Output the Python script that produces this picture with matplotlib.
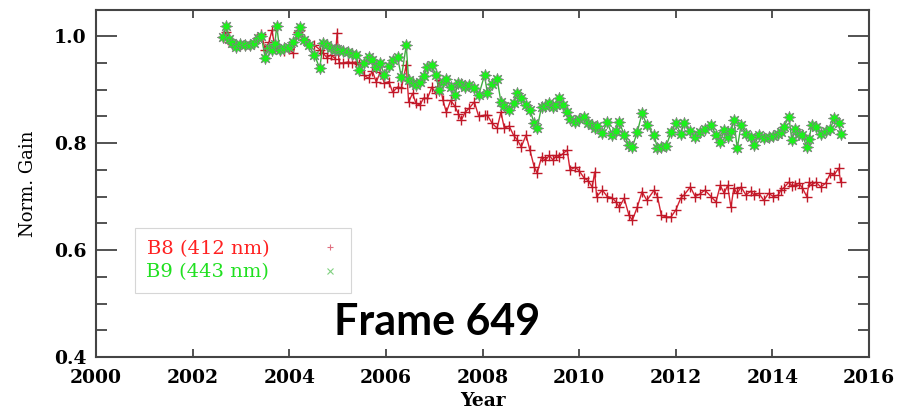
import numpy as np
import matplotlib
matplotlib.use("Agg")
import matplotlib.pyplot as plt
from matplotlib.lines import Line2D
from matplotlib.ticker import MultipleLocator

# decimal year of each frame and normalised gain for the two bands
years = [
    2002.62, 2002.70, 2002.76, 2002.82, 2002.90, 2002.98, 2003.08, 2003.18, 2003.26, 2003.36,
    2003.42, 2003.50, 2003.58, 2003.64, 2003.70, 2003.74, 2003.80, 2003.90, 2004.00, 2004.08,
    2004.17, 2004.22, 2004.30, 2004.40, 2004.52, 2004.63, 2004.70, 2004.78, 2004.86, 2004.95,
    2004.99, 2005.03, 2005.12, 2005.22, 2005.30, 2005.38, 2005.45, 2005.55, 2005.64, 2005.72,
    2005.80, 2005.88, 2005.97, 2006.06, 2006.14, 2006.24, 2006.32, 2006.42, 2006.47, 2006.55,
    2006.62, 2006.70, 2006.78, 2006.86, 2006.95, 2007.03, 2007.10, 2007.18, 2007.25, 2007.34,
    2007.42, 2007.50, 2007.56, 2007.64, 2007.72, 2007.83, 2007.92, 2008.04, 2008.10, 2008.20,
    2008.30, 2008.38, 2008.45, 2008.55, 2008.64, 2008.72, 2008.80, 2008.90, 2008.98, 2009.07,
    2009.13, 2009.22, 2009.30, 2009.38, 2009.46, 2009.52, 2009.58, 2009.66, 2009.75, 2009.81,
    2009.92, 2010.00, 2010.10, 2010.18, 2010.27, 2010.32, 2010.36, 2010.48, 2010.58, 2010.68,
    2010.76, 2010.83, 2010.93, 2011.03, 2011.10, 2011.20, 2011.30, 2011.40, 2011.55, 2011.62,
    2011.70, 2011.80, 2011.90, 2012.00, 2012.10, 2012.17, 2012.30, 2012.40, 2012.50, 2012.60,
    2012.73, 2012.83, 2012.92, 2013.00, 2013.07, 2013.14, 2013.20, 2013.27, 2013.35, 2013.45,
    2013.55, 2013.62, 2013.72, 2013.82, 2013.92, 2014.02, 2014.12, 2014.17, 2014.23, 2014.34,
    2014.40, 2014.47, 2014.55, 2014.62, 2014.71, 2014.76, 2014.81, 2014.90, 2015.00, 2015.10,
    2015.20, 2015.27, 2015.37, 2015.41,
]

b8_gain = [
    0.998, 1.007, 0.990, 0.985, 0.983, 0.983, 0.983, 0.983, 0.990, 0.996,
    1.005, 0.975, 0.989, 1.011, 0.980, 0.978, 0.975, 0.972, 0.976, 0.968,
    1.007, 1.011, 0.995, 0.985, 0.983, 0.975, 0.968, 0.960, 0.965, 0.958,
    1.006, 0.950, 0.950, 0.952, 0.950, 0.952, 0.948, 0.927, 0.921, 0.935,
    0.914, 0.933, 0.912, 0.915, 0.895, 0.905, 0.903, 0.946, 0.877, 0.893,
    0.875, 0.871, 0.884, 0.884, 0.905, 0.893, 0.918, 0.880, 0.858, 0.880,
    0.870, 0.855, 0.843, 0.858, 0.865, 0.877, 0.850, 0.852, 0.852, 0.837,
    0.828, 0.858, 0.828, 0.832, 0.815, 0.806, 0.793, 0.815, 0.787, 0.755,
    0.744, 0.774, 0.768, 0.777, 0.768, 0.777, 0.775, 0.780, 0.787, 0.750,
    0.755, 0.748, 0.735, 0.730, 0.718, 0.746, 0.700, 0.712, 0.700, 0.698,
    0.690, 0.680, 0.697, 0.665, 0.656, 0.680, 0.709, 0.693, 0.712, 0.700,
    0.665, 0.662, 0.662, 0.675, 0.697, 0.703, 0.718, 0.700, 0.705, 0.712,
    0.700, 0.690, 0.721, 0.706, 0.721, 0.680, 0.716, 0.706, 0.718, 0.703,
    0.710, 0.703, 0.706, 0.693, 0.706, 0.700, 0.703, 0.712, 0.716, 0.727,
    0.720, 0.722, 0.725, 0.716, 0.700, 0.727, 0.722, 0.727, 0.718, 0.725,
    0.744, 0.740, 0.753, 0.727,
]

b9_gain = [
    0.998, 1.020, 0.995, 0.987, 0.980, 0.985, 0.983, 0.983, 0.987, 0.996,
    1.000, 0.960, 0.978, 0.974, 0.985, 1.020, 0.974, 0.978, 0.980, 0.990,
    1.005, 1.017, 0.993, 0.983, 0.965, 0.940, 0.987, 0.983, 0.978, 0.975,
    0.976, 0.975, 0.972, 0.970, 0.966, 0.965, 0.936, 0.950, 0.962, 0.955,
    0.942, 0.950, 0.927, 0.945, 0.955, 0.961, 0.923, 0.983, 0.918, 0.912,
    0.908, 0.915, 0.925, 0.942, 0.946, 0.927, 0.899, 0.915, 0.920, 0.905,
    0.890, 0.912, 0.910, 0.905, 0.908, 0.903, 0.890, 0.927, 0.893, 0.910,
    0.920, 0.877, 0.870, 0.862, 0.875, 0.893, 0.885, 0.872, 0.862, 0.837,
    0.828, 0.868, 0.870, 0.875, 0.868, 0.872, 0.884, 0.872, 0.858, 0.846,
    0.840, 0.845, 0.849, 0.838, 0.834, 0.828, 0.832, 0.819, 0.840, 0.815,
    0.822, 0.840, 0.815, 0.796, 0.793, 0.820, 0.856, 0.834, 0.815, 0.790,
    0.793, 0.795, 0.820, 0.837, 0.818, 0.837, 0.822, 0.811, 0.820, 0.826,
    0.834, 0.815, 0.802, 0.824, 0.812, 0.822, 0.843, 0.790, 0.834, 0.818,
    0.812, 0.796, 0.815, 0.810, 0.812, 0.813, 0.818, 0.820, 0.830, 0.849,
    0.806, 0.826, 0.818, 0.815, 0.793, 0.808, 0.834, 0.830, 0.818, 0.822,
    0.826, 0.847, 0.838, 0.818,
]

band_labels = ["B8 (412 nm)", "B9 (443 nm)"]
frame_label = "Frame 649"

serif = "DejaVu Serif"
axis_col = "#444444"

fig = plt.figure(figsize=(9, 4.12), dpi=100)
ax = fig.add_axes([0.1067, 0.1335, 0.859, 0.8422])

ax.plot(years, b8_gain, "-", color="#d42030", lw=1.0, marker="+", ms=7,
        mew=1.0, mec="#c01828", zorder=3)
ax.plot(years, b9_gain, "-", color="#3fae3f", lw=1.0, marker=(8, 1, 0), ms=9,
        mfc="#1cf01c", mec="#808080", mew=0.5, zorder=4)

ax.set_xlim(2000, 2016)
ax.set_ylim(0.4, 1.049)
ax.xaxis.set_major_locator(MultipleLocator(2))
ax.yaxis.set_major_locator(MultipleLocator(0.2))
ax.yaxis.set_minor_locator(MultipleLocator(0.05))
ax.yaxis.set_major_formatter(plt.FuncFormatter(lambda v, p: "%.1f" % v))

ax.tick_params(axis="x", which="major", direction="in", top=True, length=6,
               width=1.3, color=axis_col, pad=9)
ax.tick_params(axis="y", which="major", direction="in", right=True, length=15,
               width=1.3, color=axis_col, pad=7)
ax.tick_params(axis="y", which="minor", direction="in", right=True, length=8,
               width=1.3, color=axis_col)
for lab in ax.get_xticklabels() + ax.get_yticklabels():
    lab.set_fontfamily(serif)
    lab.set_fontweight("bold")
    lab.set_fontsize(13.5)
for sp in ax.spines.values():
    sp.set_color(axis_col)
    sp.set_linewidth(1.5)

ax.set_xlabel("Year", family=serif, fontsize=13.5, fontweight="bold", labelpad=3)
ax.set_ylabel("Norm. Gain", family=serif, fontsize=13, labelpad=12)

handles = [
    Line2D([], [], ls="none", marker="+", ms=5, mew=0.8, color="#e07080"),
    Line2D([], [], ls="none", marker="x", ms=4, mew=0.8, color="#80d080"),
]
leg = ax.legend(handles, band_labels, loc="lower left", bbox_to_anchor=(0.05, 0.184),
                borderaxespad=0, markerfirst=False, frameon=True, fancybox=False,
                handlelength=1.0, handletextpad=2.6, borderpad=0.6, labelspacing=0.3,
                prop={"family": serif, "size": 14})
leg.get_frame().set_edgecolor("#cccccc")
leg.get_frame().set_linewidth(0.8)
for txt, col in zip(leg.get_texts(), ["#ff2020", "#20e020"]):
    txt.set_color(col)

ax.text(0.441, 0.10, frame_label, transform=ax.transAxes, ha="center", va="center",
        family="Lato", fontweight="bold", fontsize=31, color="black")

fig.savefig("out.png", dpi=100)
